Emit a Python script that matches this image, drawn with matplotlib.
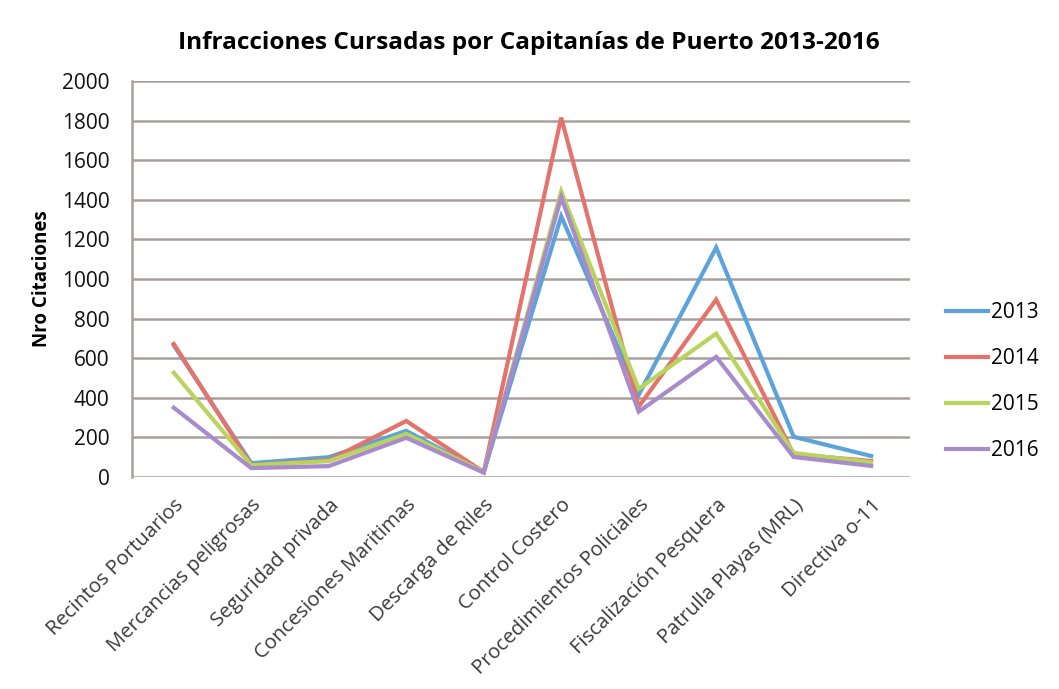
import matplotlib
matplotlib.use("Agg")
import matplotlib.pyplot as plt

plt.rcParams['font.family'] = ['Open Sans', 'DejaVu Sans']

# categories and yearly series
CATEGORIES = ["Recintos Portuarios", "Mercancias peligrosas", "Seguridad privada",
              "Concesiones Maritimas", "Descarga de Riles", "Control Costero",
              "Procedimientos Policiales", "Fiscalización Pesquera",
              "Patrulla Playas (MRL)", "Directiva o-11"]
Y2013 = [665, 70, 100, 233, 25, 1317, 415, 1159, 203, 106]
Y2014 = [672, 60, 85, 283, 25, 1815, 355, 896, 115, 81]
Y2015 = [527, 60, 80, 218, 25, 1443, 445, 724, 121, 75]
Y2016 = [350, 45, 55, 198, 22, 1413, 330, 607, 101, 56]
YEARS = ["2013", "2014", "2015", "2016"]
COLORS = ["#5BA3DA", "#E5736C", "#B9D45C", "#A78BCB"]
YTICKS = list(range(0, 2001, 200))

fig = plt.figure(figsize=(10.59, 6.89), dpi=100)
ax = fig.add_axes([0.1246, 0.3077, 0.7346, 0.5747])

x = range(len(CATEGORIES))
for vals, name, col in zip([Y2013, Y2014, Y2015, Y2016], YEARS, COLORS):
    ax.plot(x, vals, color=col, lw=3, label=name, solid_joinstyle="miter")

ax.set_xlim(-0.54, 9.5)
ax.set_ylim(0, 2000)
ax.set_yticks(YTICKS)
ax.set_yticklabels([str(v) for v in YTICKS], fontsize=15, color="#111111")
ax.yaxis.grid(True, color="#A8A09E", lw=1.8)
ax.set_axisbelow(True)
for s in ["top", "right", "bottom"]:
    ax.spines[s].set_visible(False)
ax.spines["left"].set_color("#A8A09E")
ax.spines["left"].set_linewidth(1.8)
ax.tick_params(axis="y", length=0, pad=16)
ax.tick_params(axis="x", length=0, pad=13)
ax.set_xticks(list(x))
ax.set_xticklabels(CATEGORIES, rotation=45, ha="right", rotation_mode="anchor",
                   fontsize=14.6, color="#3A3A3A")
ax.set_ylabel("Nro Citaciones", fontsize=13.5, fontweight="bold", labelpad=7)
ax.set_title("Infracciones Cursadas por Capitanías de Puerto 2013-2016",
             fontsize=17.6, fontweight="bold", pad=23, x=0.51)

leg = ax.legend(loc="center left", bbox_to_anchor=(1.022, 0.24), frameon=False,
                fontsize=15, handlelength=2.05, handletextpad=0.1, labelspacing=1.2)

fig.savefig("out.png", dpi=100, facecolor="white")
